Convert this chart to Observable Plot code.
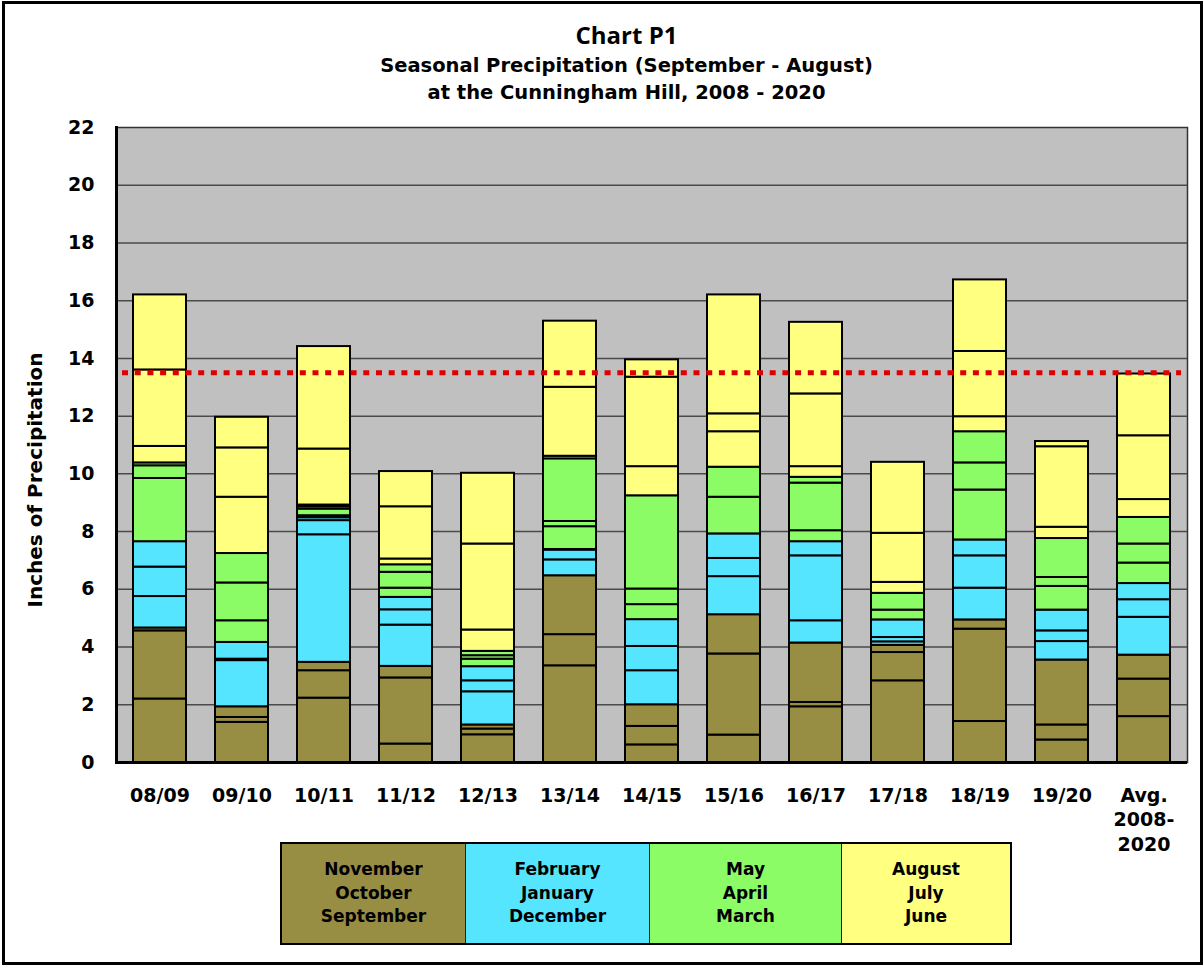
<!DOCTYPE html>
<html>
<head>
<meta charset="utf-8">
<script src="https://cdn.jsdelivr.net/npm/d3@7"></script>
<script src="https://cdn.jsdelivr.net/npm/@observablehq/plot@0.6"></script>
<style>
  html, body { margin: 0; padding: 0; background: #fff; }
  #page { position: relative; width: 1203px; height: 965px; overflow: hidden; font-family: "DejaVu Sans", sans-serif; font-weight: bold; color: #000; }
  #border { position: absolute; left: 2px; top: 1px; width: 1195px; height: 958px; border: 3px solid #000; pointer-events: none; }
  #titles { position: absolute; left: 25px; top: 18px; width: 1203px; text-align: center; }
  #titles .t1 { font-family: "Open Sans", "DejaVu Sans", sans-serif; font-size: 24px; line-height: 34px; }
  #titles .t2 { font-size: 19.5px; line-height: 27px; }
  #chart { position: absolute; left: 0; top: 0; }
  #ylabel { position: absolute; left: 35px; top: 480px; transform: translate(-50%, -50%) rotate(-90deg); white-space: nowrap; font-size: 20px; }
  #legend { position: absolute; left: 280px; top: 842px; display: flex; border: 2px solid #000; }
  #legend .cell { height: 99px; display: flex; align-items: center; justify-content: center; text-align: center; font-size: 17px; line-height: 23.5px; border-right: 1.5px solid #222; box-sizing: border-box; }
  #legend .cell:last-child { border-right: none; }
</style>
</head>
<body>
<div id="page">
  <div id="titles">
    <div class="t1">Chart P1</div>
    <div class="t2">Seasonal Precipitation (September - August)</div>
    <div class="t2">at the Cunningham Hill, 2008 - 2020</div>
  </div>
  <div id="chart"></div>
  <div id="ylabel">Inches of Precipitation</div>
  <div id="legend"></div>
  <div id="border"></div>
</div>
<script>
// Seasons (September - August water years) and the multi-year average
const seasons = ["08/09","09/10","10/11","11/12","12/13","13/14","14/15","15/16","16/17","17/18","18/19","19/20","Avg."];
const seasonLabels = ["08/09","09/10","10/11","11/12","12/13","13/14","14/15","15/16","16/17","17/18","18/19","19/20","Avg.\n2008-\n2020"];

// Monthly precipitation (inches), stacked bottom (September) to top (August)
const sep = [2.20,1.39,2.23,0.64,0.96,3.35,0.61,0.95,1.93,2.83,1.42,0.78,1.59];
const oct = [2.36,0.17,0.95,2.29,0.20,1.08,0.64,2.81,0.15,0.98,3.20,0.52,1.30];
const nov = [0.10,0.37,0.29,0.40,0.14,2.04,0.75,1.36,2.06,0.25,0.32,2.25,0.83];
const dec = [1.09,1.60,4.42,1.43,1.15,0.55,1.18,1.32,0.77,0.12,1.10,0.64,1.31];
const jan = [1.02,0.05,0.49,0.53,0.38,0.34,0.84,0.63,2.25,0.15,1.12,0.37,0.61];
const feb = [0.88,0.58,0.10,0.43,0.49,0.02,0.93,0.85,0.49,0.61,0.55,0.72,0.56];
const mar = [2.19,0.75,0.07,0.32,0.26,0.79,0.52,1.27,0.38,0.34,1.73,0.82,0.71];
const apr = [0.44,1.31,0.23,0.55,0.12,0.18,0.54,1.04,1.65,0.58,0.94,0.31,0.66];
const may = [0.10,1.02,0.08,0.26,0.15,2.17,3.23,0.00,0.20,0.00,1.08,1.35,0.92];
const jun = [0.57,1.95,0.06,0.20,0.74,0.09,1.01,1.23,0.37,0.38,0.52,0.39,0.62];
const jul = [2.65,1.71,1.94,1.81,2.98,2.39,3.10,0.62,2.52,1.70,2.26,2.79,2.21];
const aug = [2.60,1.06,3.55,1.22,2.45,2.29,0.60,4.12,2.48,2.46,2.48,0.18,2.14];

// Average seasonal total (red dotted reference line)
const averageTotal = 13.5;

// Season groups (legend), their months and colors
const groupNames = ["Sep-Nov","Dec-Feb","Mar-May","Jun-Aug"];
const groupLegend = ["November\nOctober\nSeptember","February\nJanuary\nDecember","May\nApril\nMarch","August\nJuly\nJune"];
const groupColors = ["#978d43","#55e5ff","#8cfc66","#ffff80"];
const months = [
  ["Sep", sep, 0], ["Oct", oct, 0], ["Nov", nov, 0],
  ["Dec", dec, 1], ["Jan", jan, 1], ["Feb", feb, 1],
  ["Mar", mar, 2], ["Apr", apr, 2], ["May", may, 2],
  ["Jun", jun, 3], ["Jul", jul, 3], ["Aug", aug, 3]
];
const yTicks = [0,2,4,6,8,10,12,14,16,18,20,22];

const rows = [];
seasons.forEach((s, i) => {
  months.forEach(([m, arr, g]) => {
    rows.push({season: s, month: m, group: groupNames[g], value: arr[i]});
  });
});

const labelOf = new Map(seasons.map((s, i) => [s, seasonLabels[i]]));

const chart = Plot.plot({
  width: 1203,
  height: 880,
  marginTop: 127,
  marginBottom: 118,
  marginLeft: 116,
  marginRight: 16,
  style: {fontFamily: "'DejaVu Sans', sans-serif", fontWeight: "bold", fontSize: "19px", color: "#000", background: "transparent", overflow: "visible"},
  x: {domain: seasons, paddingInner: 0.357, paddingOuter: 0.18, label: null},
  y: {domain: [0, 22], label: null},
  color: {domain: groupNames, range: groupColors},
  marks: [
    Plot.frame({fill: "#c0c0c0", stroke: "#333", strokeWidth: 1.5}),
    Plot.gridY(yTicks.filter(d => d > 0 && d < 22), {stroke: "#4a4a4a", strokeOpacity: 1, strokeWidth: 1.5}),
    Plot.barY(rows, {x: "season", y: "value", fill: "group", stroke: "#000", strokeWidth: 2, order: null}),
    Plot.ruleY([averageTotal], {stroke: "#dd0000", strokeWidth: 5, strokeDasharray: "6,6.7", insetLeft: 6, insetRight: 6}),
    Plot.ruleY([0], {stroke: "#000", strokeWidth: 3}),
    Plot.frame({anchor: "left", stroke: "#000", strokeWidth: 3}),
    Plot.axisY({ticks: yTicks, tickSize: 0, tickPadding: 22, label: null, fontSize: 19}),
    Plot.axisX({tickSize: 0, tickPadding: 22, label: null, tickFormat: d => labelOf.get(d), lineHeight: 1.29, fontSize: 19})
  ]
});
document.getElementById("chart").appendChild(chart);

// Legend built from the group arrays
const legendWidths = [184, 184, 192, 168];
const legend = document.getElementById("legend");
groupNames.forEach((g, i) => {
  const cell = document.createElement("div");
  cell.className = "cell";
  cell.style.background = groupColors[i];
  cell.style.width = legendWidths[i] + "px";
  cell.innerHTML = groupLegend[i].split("\n").join("<br>");
  legend.appendChild(cell);
});
</script>
</body>
</html>
